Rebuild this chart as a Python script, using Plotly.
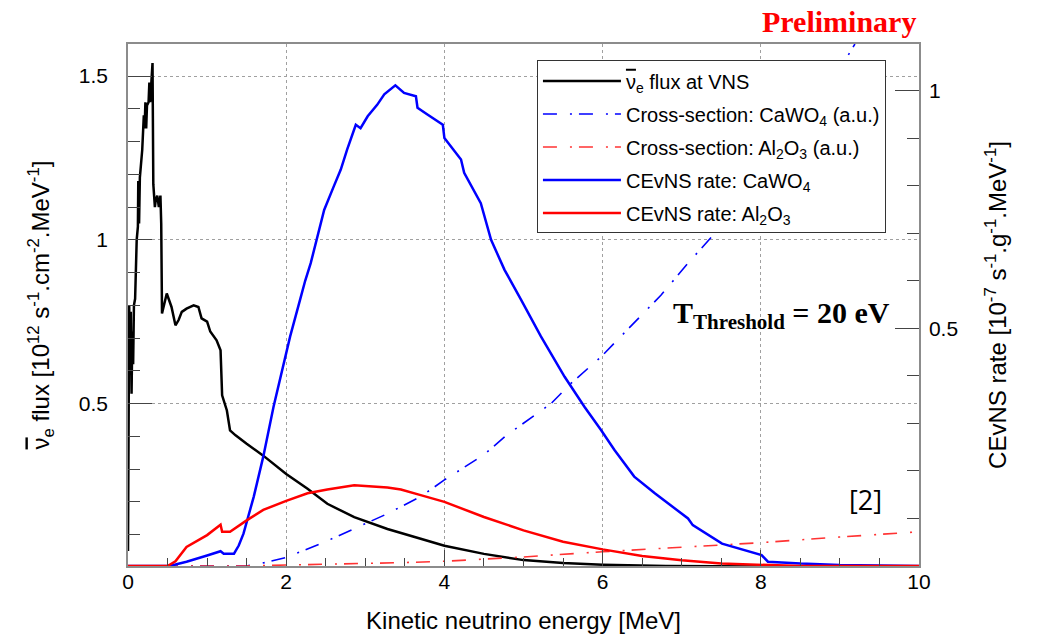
import plotly.graph_objects as go

# ---------------- data ----------------
# anti-neutrino flux at VNS  [1e12 s^-1 cm^-2 MeV^-1]  (left axis)
flux_E = [0.0, 0.005, 0.015, 0.025, 0.035, 0.045, 0.055, 0.065, 0.075, 0.09, 0.11,
          0.125, 0.13, 0.14, 0.15, 0.18, 0.20, 0.21, 0.22, 0.23, 0.24, 0.26, 0.27,
          0.28, 0.29, 0.31, 0.32, 0.34, 0.35, 0.37, 0.39, 0.41, 0.42, 0.43, 0.49,
          0.55, 0.60, 0.64, 0.68, 0.74, 0.83, 0.89, 0.93, 1.00, 1.04, 1.12, 1.17,
          1.19, 1.25, 1.29, 1.36, 1.50, 1.71, 2.00, 2.27, 2.52, 2.86, 3.28, 3.70,
          4.00, 4.50, 5.00, 5.50, 6.00, 6.80, 8.00, 10.0]
flux_val = [0.05, 0.30, 0.80, 0.60, 0.78, 0.53, 0.72, 0.62, 0.80, 0.82, 1.00,
            1.04, 1.18, 1.05, 1.19, 1.275, 1.38, 1.34, 1.42, 1.34, 1.41, 1.42, 1.48,
            1.42, 1.46, 1.54, 1.17, 1.10, 1.12, 1.135, 1.10, 1.135, 1.05, 0.775, 0.836,
            0.795, 0.739, 0.755, 0.78, 0.79, 0.80, 0.795, 0.76, 0.75, 0.72, 0.693, 0.663,
            0.525, 0.479, 0.418, 0.403, 0.377, 0.341, 0.285, 0.240, 0.194, 0.153, 0.117, 0.087,
            0.066, 0.041, 0.022, 0.013, 0.008, 0.004, 0.002, 0.001]

# cross-section CaWO4 (a.u.)  (right axis)
xs_cawo4_E = [0.0, 1.5, 1.7, 2.0, 2.44, 2.86, 3.28, 3.70, 4.00, 4.50, 4.77, 5.35,
              5.60, 5.98, 6.40, 6.74, 7.08, 7.42, 8.00, 8.50, 9.07, 9.19]
xs_cawo4 = [0.0, 0.0, 0.006, 0.018, 0.047, 0.079, 0.110, 0.146, 0.181, 0.234, 0.273, 0.342,
            0.384, 0.440, 0.511, 0.570, 0.637, 0.700, 0.810, 0.920, 1.065, 1.098]

# cross-section Al2O3 (a.u.)  (right axis)
xs_al2o3_E = [0.0, 1.5, 2.0, 3.0, 3.45, 4.0, 5.0, 6.0, 7.0, 8.0, 9.0, 10.0]
xs_al2o3 = [0.0, 0.0, 0.002, 0.005, 0.007, 0.010, 0.019, 0.030, 0.040, 0.049, 0.061, 0.072]

# CEvNS rate CaWO4  [1e-7 s^-1 g^-1 MeV^-1]  (right axis)
rate_cawo4_E = [0.0, 0.50, 0.60, 0.74, 1.00, 1.17, 1.21, 1.34, 1.40, 1.46, 1.59, 1.71,
                1.84, 2.00, 2.05, 2.18, 2.24, 2.31, 2.48, 2.60, 2.69, 2.77, 2.88, 2.94,
                3.03, 3.15, 3.24, 3.38, 3.49, 3.64, 3.66, 3.79, 3.98, 4.00, 4.21, 4.25,
                4.46, 4.59, 4.76, 4.97, 5.22, 5.52, 5.77, 5.98, 6.15, 6.40, 6.66, 7.08,
                7.14, 7.51, 8.01, 8.09, 8.50, 9.00, 10.0]
rate_cawo4 = [0.0, 0.0, 0.003, 0.009, 0.022, 0.031, 0.026, 0.026, 0.043, 0.068, 0.146, 0.230,
              0.335, 0.443, 0.483, 0.563, 0.600, 0.637, 0.749, 0.798, 0.834, 0.876, 0.928, 0.921,
              0.946, 0.970, 0.992, 1.011, 0.995, 0.988, 0.964, 0.949, 0.928, 0.900, 0.855, 0.827,
              0.763, 0.686, 0.623, 0.560, 0.483, 0.398, 0.335, 0.286, 0.244, 0.188, 0.153, 0.100,
              0.086, 0.047, 0.023, 0.009, 0.005, 0.002, 0.0]

# CEvNS rate Al2O3  (right axis)
rate_al2o3_E = [0.0, 0.50, 0.60, 0.74, 1.00, 1.17, 1.19, 1.29, 1.50, 1.71, 2.00, 2.27,
                2.52, 2.86, 3.28, 3.45, 3.70, 4.00, 4.50, 5.00, 5.50, 6.00, 6.50, 7.00,
                7.50, 8.00, 8.50, 10.0]
rate_al2o3 = [0.0, 0.0, 0.010, 0.040, 0.065, 0.087, 0.072, 0.072, 0.096, 0.118, 0.137, 0.153,
              0.161, 0.170, 0.165, 0.161, 0.149, 0.135, 0.103, 0.075, 0.051, 0.035, 0.021, 0.012,
              0.005, 0.002, 0.0, 0.0]

x_ticks = [0, 2, 4, 6, 8, 10]
y_ticks = [0.5, 1, 1.5]
y2_ticks = [0.5, 1]

# ---------------- figure ----------------
FONT = "Liberation Sans, Arial, sans-serif"
SERIF = "Liberation Serif, Times New Roman, serif"
DASHDOT = "14px,13px,2px,7px"
NUBAR = "<span style=\"text-decoration:overline\">\u03bd</span>"

fig = go.Figure()
fig.add_trace(go.Scatter(x=flux_E, y=flux_val, mode="lines", yaxis="y",
                         name=NUBAR + "<sub>e</sub> flux at VNS", legendgroup="a",
                         line=dict(color="black", width=2.5)))
fig.add_trace(go.Scatter(x=xs_cawo4_E, y=xs_cawo4, mode="lines", yaxis="y2",
                         name="Cross-section: CaWO<sub>4</sub> (a.u.)", legendgroup="b",
                         line=dict(color="#0000ff", width=1.6, dash=DASHDOT)))
fig.add_trace(go.Scatter(x=xs_al2o3_E, y=xs_al2o3, mode="lines", yaxis="y2",
                         name="Cross-section: Al<sub>2</sub>O<sub>3</sub> (a.u.)", legendgroup="c",
                         line=dict(color="#ff3333", width=1.6, dash=DASHDOT)))
fig.add_trace(go.Scatter(x=rate_cawo4_E, y=rate_cawo4, mode="lines", yaxis="y2",
                         name="CEvNS rate: CaWO<sub>4</sub>", legendgroup="d",
                         line=dict(color="#0000ff", width=2.5)))
fig.add_trace(go.Scatter(x=rate_al2o3_E, y=rate_al2o3, mode="lines", yaxis="y2",
                         name="CEvNS rate: Al<sub>2</sub>O<sub>3</sub>", legendgroup="e",
                         line=dict(color="#ff0000", width=2.5)))

axis_common = dict(showline=True, linecolor="#8c8c8c", linewidth=1.5,
                   ticks="inside", tickcolor="#444", tickwidth=1,
                   tickfont=dict(family=FONT, size=21, color="black"),
                   zeroline=False, automargin=False)

fig.update_layout(
    width=1038, height=638,
    margin=dict(l=128, r=119, t=44, b=72),
    paper_bgcolor="white", plot_bgcolor="white",
    font=dict(family=FONT, color="black"),
    showlegend=True,
    legend=dict(x=0.517, y=0.9685, xanchor="left", yanchor="top",
                bgcolor="white", bordercolor="#333", borderwidth=1,
                font=dict(family=FONT, size=20, color="black"),
                tracegroupgap=4, itemwidth=78, traceorder="grouped"),
    xaxis=dict(range=[0, 10], tickvals=x_ticks, ticklen=16, mirror=True,
               showgrid=True, gridcolor="#a0a0a0", griddash="dot", gridwidth=1,
               minor=dict(dtick=0.5, tick0=0, ticklen=8, ticks="inside", tickcolor="#444", showgrid=False),
               ticklabelstandoff=-4,
               title=dict(text="Kinetic neutrino energy [MeV]", standoff=20,
                          font=dict(family=FONT, size=24, color="black")),
               **axis_common),
    yaxis=dict(range=[0.004, 1.598], tickvals=y_ticks, ticklen=24,
               showgrid=True, gridcolor="#a0a0a0", griddash="dot", gridwidth=1,
               minor=dict(dtick=0.1, tick0=0, ticklen=12, ticks="inside", tickcolor="#444", showgrid=False),
               ticklabelstandoff=14,
               title=dict(text=NUBAR + "<sub>e</sub> flux [10<sup>12</sup> s<sup>-1</sup>.cm<sup>-2</sup>.MeV<sup>-1</sup>]",
                          standoff=22, font=dict(family=FONT, size=24, color="black")),
               **axis_common),
    yaxis2=dict(range=[0.0, 1.098], tickvals=y2_ticks, ticklen=24, overlaying="y", side="right",
                showgrid=False,
                minor=dict(dtick=0.1, tick0=0, ticklen=12, ticks="inside", tickcolor="#444", showgrid=False),
                ticklabelstandoff=4,
                title=dict(text="CEvNS rate [10<sup>-7</sup> s<sup>-1</sup>.g<sup>-1</sup>.MeV<sup>-1</sup>]",
                           standoff=32, font=dict(family=FONT, size=24, color="black")),
                **axis_common),
)

fig.add_annotation(x=0.9987, y=1.044, xref="paper", yref="paper", xanchor="right", yanchor="middle",
                   text="<b>Preliminary</b>", showarrow=False,
                   font=dict(family=SERIF, size=30, color="#ff0000"))
fig.add_annotation(x=0.6865, y=0.48, xref="paper", yref="paper", xanchor="left", yanchor="middle",
                   text="<b>T<sub>Threshold</sub> = 20 eV</b>", showarrow=False,
                   font=dict(family=SERIF, size=30, color="black"))
fig.add_annotation(x=0.9087, y=0.1276, xref="paper", yref="paper", xanchor="left", yanchor="middle",
                   text="[2]", showarrow=False,
                   font=dict(family="Open Sans, Liberation Sans, sans-serif", size=27, color="black"))

fig.write_html("out.html")
